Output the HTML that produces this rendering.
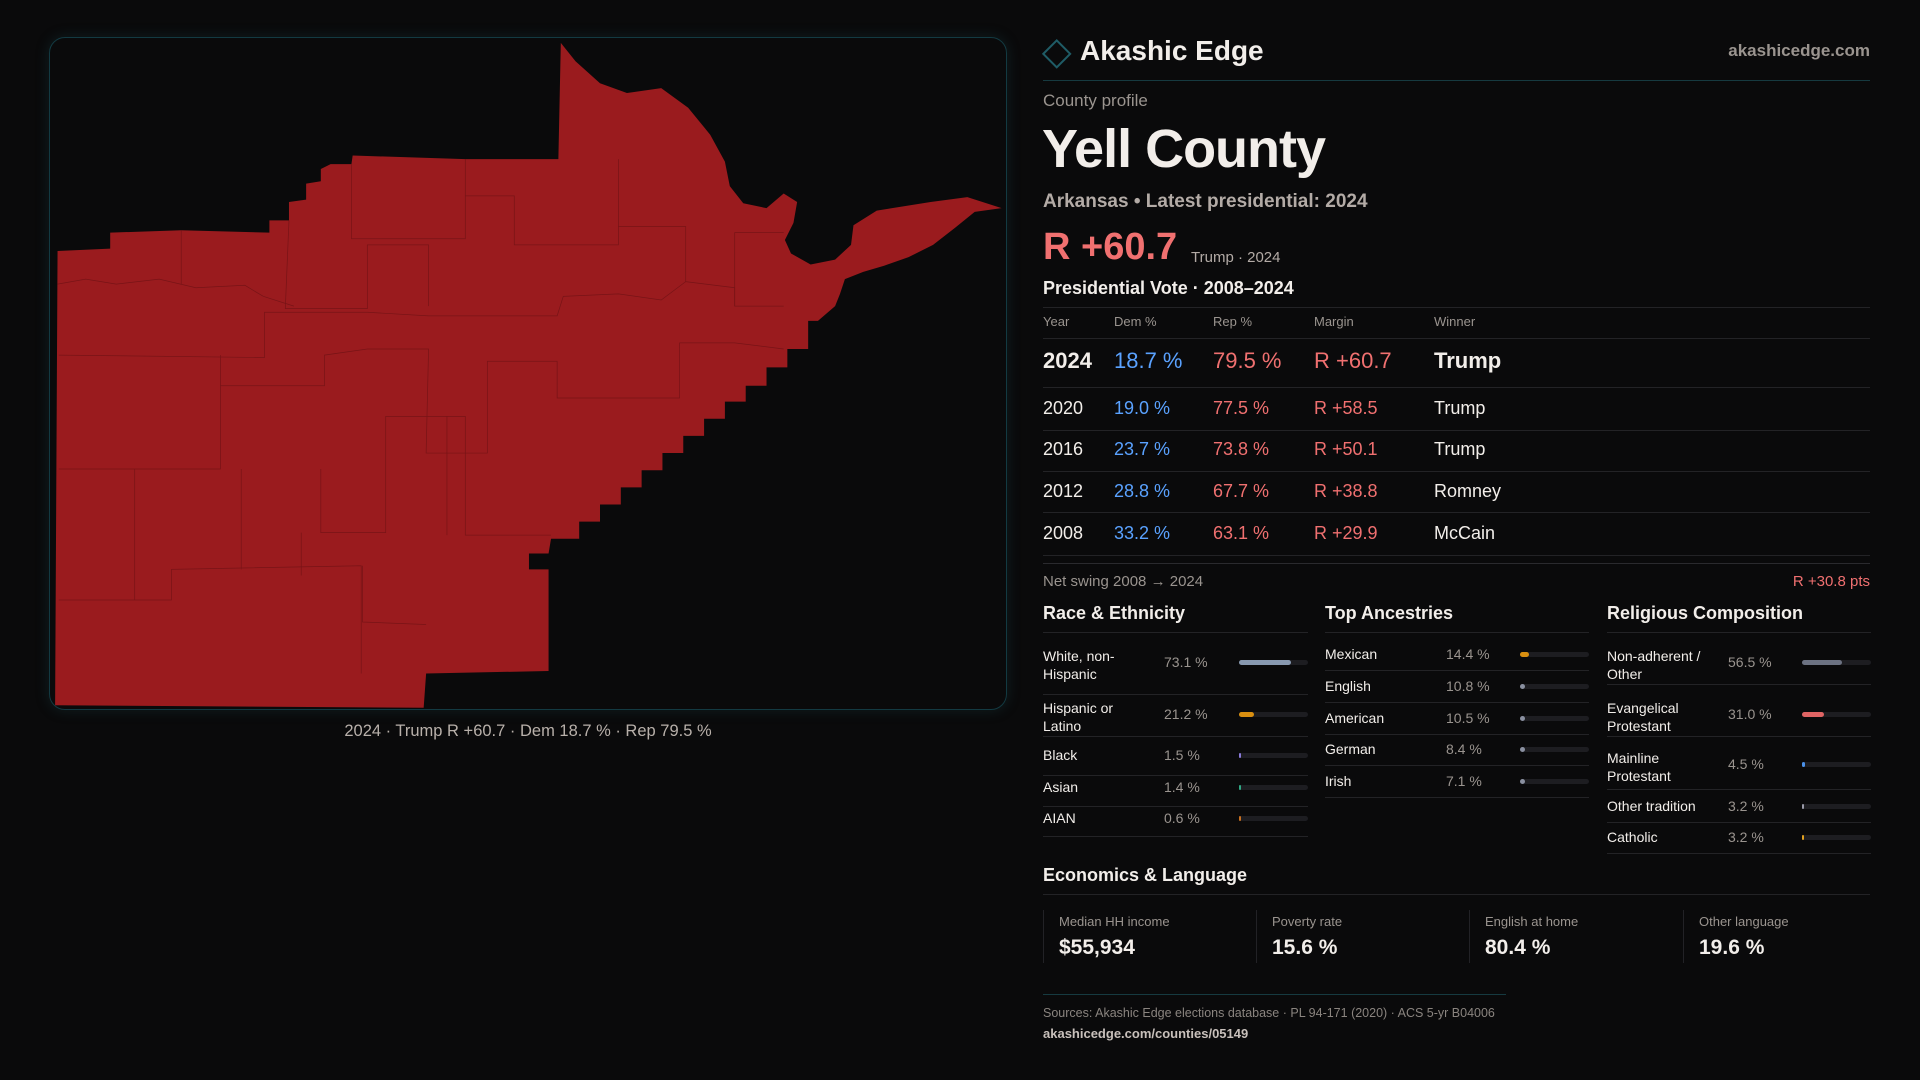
<!DOCTYPE html>
<html><head><meta charset="utf-8"><style>
*{margin:0;padding:0;box-sizing:border-box}
body{width:1920px;height:1080px;background:#0a0a0b;position:relative;overflow:hidden;font-family:"Liberation Sans",sans-serif;color:#f2eeea}
.a{position:absolute;white-space:nowrap;line-height:1}
.hl{position:absolute;height:1px;background:#232326}
.g{color:#9a948f}
.b{color:#5aa2ff}.r{color:#f07070}
.bar{position:absolute;height:5px;border-radius:3px;background:#1d1d21}
.bar i{position:absolute;left:0;top:0;height:5px;border-radius:3px;display:block}
.card{position:absolute;top:910px;height:53px;border-left:1px solid #222226}
</style></head><body>
<div style="position:absolute;left:49px;top:37px;width:958px;height:673px;border:1px solid #133a42;border-radius:16px;box-shadow:0 0 14px rgba(30,90,100,.25)"></div>
<svg style="position:absolute;left:0;top:0" width="1920" height="1080" viewBox="0 0 1568 882">
<path fill="#9a1b1e" d="M458,35 L470,50 L490,68 L512,76 L540,72 L562,88 L580,110 L592,132 L596,152 L607,166 L626,170 L640,158 L651,165 L648,182 L641,196 L646,207 L662,216 L682,212 L695,200 L697,184 L716,172 L760,165 L790,161 L818,170 L796,173 L780,186 L762,200 L742,210 L722,217 L705,222 L690,228 L686,240 L682,250 L668,262 L660,262 L660,285 L643,285 L643,300 L626,300 L626,315 L609,315 L609,328 L592,328 L592,342 L575,342 L575,356 L558,356 L558,370 L541,370 L541,384 L524,384 L524,398 L507,398 L507,412 L490,412 L490,426 L473,426 L473,440 L450,440 L448,452 L432,452 L432,465 L448,465 L448,548 L348,550 L346,578 L45,576 L47,205 L90,203 L90,190 L148,188 L220,190 L220,180 L236,180 L236,165 L250,163 L250,150 L262,148 L262,138 L270,134 L287,134 L288,127 L380,130 L456,130 Z"/>
<g stroke="#701215" stroke-width="0.6" fill="none" opacity="0.8">
<path d="M47,232 L70,228 L95,232 L130,228 L160,235 L200,233 L215,242 L240,250"/>
<path d="M148,188 L148,232 M236,180 L233,252 L300,252 L300,200 L350,200 L350,250 M287,134 L287,195 L380,195 L380,160 L420,160 L420,200 L505,200 L505,185 L560,185 L560,230 L600,235 L600,250"/>
<path d="M48,290 L216,292 L216,255 L300,255 L350,258 L455,258 L460,242 L505,240 L540,245 L560,230"/>
<path d="M380,130 L380,160 M505,130 L505,185 M640,190 L600,190 L600,250 L640,250"/>
<path d="M48,383 L180,383 L180,290 M180,315 L265,315 L265,290 L300,285 L350,285 L348,370 L398,370 L398,295 L455,295 L455,325 L555,325 L555,280 L600,280 L640,285"/>
<path d="M110,383 L110,490 L140,490 L140,465 L295,462 L295,550 M197,383 L197,465 M262,383 L262,435 L315,435 L315,340 L380,340 L380,437 L450,437 M365,340 L365,437 M48,490 L110,490"/>
<path d="M246,435 L246,470 M296,462 L296,508 L348,510"/>
</g>
<polygon points="852,44 863,33 874,44 863,55" fill="none" stroke="#1f5c66" stroke-width="1.6"/>
</svg>
<div class="a" style="left:0;width:1056px;text-align:center;top:723px;font-size:16.5px;color:#b8b0aa">2024 · Trump R +60.7 · Dem 18.7 % · Rep 79.5 %</div>

<div class="a" style="left:1080px;top:37px;font-size:28px;font-weight:bold">Akashic Edge</div>
<div class="a g" style="right:50px;top:42px;font-size:17px;font-weight:bold;color:#9a948f">akashicedge.com</div>
<div class="hl" style="left:1043px;width:827px;top:80px;background:#163a40"></div>
<div class="a g" style="left:1043px;top:92px;font-size:17px">County profile</div>
<div class="a" style="left:1042px;top:122px;font-size:54px;font-weight:bold;letter-spacing:-1px">Yell County</div>
<div class="a" style="left:1043px;top:192px;font-size:19px;font-weight:bold;color:#b3aba6">Arkansas • Latest presidential: 2024</div>
<div class="a r" style="left:1043px;top:228px;font-size:38px;font-weight:bold">R +60.7</div>
<div class="a" style="left:1191px;top:250px;font-size:15px;color:#b3aba6">Trump · 2024</div>
<div class="a" style="left:1043px;top:279px;font-size:18px;font-weight:bold">Presidential Vote · 2008–2024</div>
<div class="hl" style="left:1043px;width:827px;top:307px"></div>
<div class="a g" style="left:1043px;top:315px;font-size:13px">Year</div>
<div class="a g" style="left:1114px;top:315px;font-size:13px">Dem %</div>
<div class="a g" style="left:1213px;top:315px;font-size:13px">Rep %</div>
<div class="a g" style="left:1314px;top:315px;font-size:13px">Margin</div>
<div class="a g" style="left:1434px;top:315px;font-size:13px">Winner</div>
<div class="hl" style="left:1043px;width:827px;top:338px"></div>
<div class="a" style="left:1043px;top:350px;font-size:22px;font-weight:bold">2024</div>
<div class="a b" style="left:1114px;top:350px;font-size:22px">18.7 %</div>
<div class="a r" style="left:1213px;top:350px;font-size:22px">79.5 %</div>
<div class="a r" style="left:1314px;top:350px;font-size:22px">R +60.7</div>
<div class="a" style="left:1434px;top:350px;font-size:22px;font-weight:bold">Trump</div>
<div class="hl" style="left:1043px;width:827px;top:387px"></div>
<div class="a" style="left:1043px;top:399px;font-size:18px">2020</div><div class="a b" style="left:1114px;top:399px;font-size:18px">19.0 %</div><div class="a r" style="left:1213px;top:399px;font-size:18px">77.5 %</div><div class="a r" style="left:1314px;top:399px;font-size:18px">R +58.5</div><div class="a" style="left:1434px;top:399px;font-size:18px">Trump</div>
<div class="hl" style="left:1043px;width:827px;top:430px"></div>
<div class="a" style="left:1043px;top:440px;font-size:18px">2016</div><div class="a b" style="left:1114px;top:440px;font-size:18px">23.7 %</div><div class="a r" style="left:1213px;top:440px;font-size:18px">73.8 %</div><div class="a r" style="left:1314px;top:440px;font-size:18px">R +50.1</div><div class="a" style="left:1434px;top:440px;font-size:18px">Trump</div>
<div class="hl" style="left:1043px;width:827px;top:471px"></div>
<div class="a" style="left:1043px;top:482px;font-size:18px">2012</div><div class="a b" style="left:1114px;top:482px;font-size:18px">28.8 %</div><div class="a r" style="left:1213px;top:482px;font-size:18px">67.7 %</div><div class="a r" style="left:1314px;top:482px;font-size:18px">R +38.8</div><div class="a" style="left:1434px;top:482px;font-size:18px">Romney</div>
<div class="hl" style="left:1043px;width:827px;top:512px"></div>
<div class="a" style="left:1043px;top:524px;font-size:18px">2008</div><div class="a b" style="left:1114px;top:524px;font-size:18px">33.2 %</div><div class="a r" style="left:1213px;top:524px;font-size:18px">63.1 %</div><div class="a r" style="left:1314px;top:524px;font-size:18px">R +29.9</div><div class="a" style="left:1434px;top:524px;font-size:18px">McCain</div>
<div class="hl" style="left:1043px;width:827px;top:555px"></div>
<div class="hl" style="left:1043px;width:827px;top:563px;background:#2a2a2e"></div>
<div class="a g" style="left:1043px;top:574px;font-size:15px">Net swing 2008 → 2024</div>
<div class="a r" style="right:50px;top:574px;font-size:15px">R +30.8 pts</div>

<div class="a" style="left:1043px;top:604px;font-size:18px;font-weight:bold">Race &amp; Ethnicity</div>
<div class="a" style="left:1325px;top:604px;font-size:18px;font-weight:bold">Top Ancestries</div>
<div class="a" style="left:1607px;top:604px;font-size:18px;font-weight:bold">Religious Composition</div>
<div class="hl" style="left:1043px;width:265px;top:632px"></div>
<div class="hl" style="left:1325px;width:264px;top:632px"></div>
<div class="hl" style="left:1607px;width:264px;top:632px"></div>

<div class="a" style="left:1043px;top:647px;font-size:14px;line-height:18px;white-space:normal;width:110px">White, non-Hispanic</div><div class="a g" style="left:1164px;top:655px;font-size:14px">73.1 %</div><div class="bar" style="left:1239px;top:660px;width:69px"><i style="width:52px;background:#8899b0"></i></div>
<div class="hl" style="left:1043px;width:265px;top:694px"></div>
<div class="a" style="left:1043px;top:699px;font-size:14px;line-height:18px;white-space:normal;width:100px">Hispanic or Latino</div><div class="a g" style="left:1164px;top:707px;font-size:14px">21.2 %</div><div class="bar" style="left:1239px;top:712px;width:69px"><i style="width:15px;background:#d98f10"></i></div>
<div class="hl" style="left:1043px;width:265px;top:736px"></div>
<div class="a" style="left:1043px;top:748px;font-size:14px">Black</div><div class="a g" style="left:1164px;top:748px;font-size:14px">1.5 %</div><div class="bar" style="left:1239px;top:753px;width:69px"><i style="width:2px;background:#8a7ad8"></i></div>
<div class="hl" style="left:1043px;width:265px;top:775px"></div>
<div class="a" style="left:1043px;top:780px;font-size:14px">Asian</div><div class="a g" style="left:1164px;top:780px;font-size:14px">1.4 %</div><div class="bar" style="left:1239px;top:785px;width:69px"><i style="width:2px;background:#30a884"></i></div>
<div class="hl" style="left:1043px;width:265px;top:806px"></div>
<div class="a" style="left:1043px;top:811px;font-size:14px">AIAN</div><div class="a g" style="left:1164px;top:811px;font-size:14px">0.6 %</div><div class="bar" style="left:1239px;top:816px;width:69px"><i style="width:2px;background:#c87020"></i></div>
<div class="hl" style="left:1043px;width:265px;top:836px"></div>

<div class="a" style="left:1325px;top:647px;font-size:14px">Mexican</div><div class="a g" style="left:1446px;top:647px;font-size:14px">14.4 %</div><div class="bar" style="left:1520px;top:652px;width:69px"><i style="width:9px;background:#d98f10"></i></div>
<div class="hl" style="left:1325px;width:264px;top:670px"></div>
<div class="a" style="left:1325px;top:679px;font-size:14px">English</div><div class="a g" style="left:1446px;top:679px;font-size:14px">10.8 %</div><div class="bar" style="left:1520px;top:684px;width:69px"><i style="width:5px;background:#8a90a0"></i></div>
<div class="hl" style="left:1325px;width:264px;top:702px"></div>
<div class="a" style="left:1325px;top:711px;font-size:14px">American</div><div class="a g" style="left:1446px;top:711px;font-size:14px">10.5 %</div><div class="bar" style="left:1520px;top:716px;width:69px"><i style="width:5px;background:#8a90a0"></i></div>
<div class="hl" style="left:1325px;width:264px;top:734px"></div>
<div class="a" style="left:1325px;top:742px;font-size:14px">German</div><div class="a g" style="left:1446px;top:742px;font-size:14px">8.4 %</div><div class="bar" style="left:1520px;top:747px;width:69px"><i style="width:5px;background:#8a90a0"></i></div>
<div class="hl" style="left:1325px;width:264px;top:765px"></div>
<div class="a" style="left:1325px;top:774px;font-size:14px">Irish</div><div class="a g" style="left:1446px;top:774px;font-size:14px">7.1 %</div><div class="bar" style="left:1520px;top:779px;width:69px"><i style="width:5px;background:#8a90a0"></i></div>
<div class="hl" style="left:1325px;width:264px;top:797px"></div>

<div class="a" style="left:1607px;top:647px;font-size:14px;line-height:18px;white-space:normal;width:115px">Non-adherent / Other</div><div class="a g" style="left:1728px;top:655px;font-size:14px">56.5 %</div><div class="bar" style="left:1802px;top:660px;width:69px"><i style="width:40px;background:#6c7282"></i></div>
<div class="hl" style="left:1607px;width:264px;top:684px"></div>
<div class="a" style="left:1607px;top:699px;font-size:14px;line-height:18px;white-space:normal;width:100px">Evangelical Protestant</div><div class="a g" style="left:1728px;top:707px;font-size:14px">31.0 %</div><div class="bar" style="left:1802px;top:712px;width:69px"><i style="width:22px;background:#e06464"></i></div>
<div class="hl" style="left:1607px;width:264px;top:736px"></div>
<div class="a" style="left:1607px;top:749px;font-size:14px;line-height:18px;white-space:normal;width:100px">Mainline Protestant</div><div class="a g" style="left:1728px;top:757px;font-size:14px">4.5 %</div><div class="bar" style="left:1802px;top:762px;width:69px"><i style="width:3px;background:#4a90e8"></i></div>
<div class="hl" style="left:1607px;width:264px;top:789px"></div>
<div class="a" style="left:1607px;top:799px;font-size:14px">Other tradition</div><div class="a g" style="left:1728px;top:799px;font-size:14px">3.2 %</div><div class="bar" style="left:1802px;top:804px;width:69px"><i style="width:2px;background:#9a9aa8"></i></div>
<div class="hl" style="left:1607px;width:264px;top:822px"></div>
<div class="a" style="left:1607px;top:830px;font-size:14px">Catholic</div><div class="a g" style="left:1728px;top:830px;font-size:14px">3.2 %</div><div class="bar" style="left:1802px;top:835px;width:69px"><i style="width:2px;background:#e0a020"></i></div>
<div class="hl" style="left:1607px;width:264px;top:853px"></div>

<div class="a" style="left:1043px;top:866px;font-size:18px;font-weight:bold">Economics &amp; Language</div>
<div class="hl" style="left:1043px;width:827px;top:894px"></div>
<div class="card" style="left:1043px;width:200px"><div class="a g" style="left:15px;top:5px;font-size:13px">Median HH income</div><div class="a" style="left:15px;top:27px;font-size:21px;font-weight:bold">$55,934</div></div>
<div class="card" style="left:1256px;width:200px"><div class="a g" style="left:15px;top:5px;font-size:13px">Poverty rate</div><div class="a" style="left:15px;top:27px;font-size:21px;font-weight:bold">15.6 %</div></div>
<div class="card" style="left:1469px;width:200px"><div class="a g" style="left:15px;top:5px;font-size:13px">English at home</div><div class="a" style="left:15px;top:27px;font-size:21px;font-weight:bold">80.4 %</div></div>
<div class="card" style="left:1683px;width:190px"><div class="a g" style="left:15px;top:5px;font-size:13px">Other language</div><div class="a" style="left:15px;top:27px;font-size:21px;font-weight:bold">19.6 %</div></div>

<div class="hl" style="left:1043px;width:463px;top:994px;background:#163a40"></div>
<div class="a g" style="left:1043px;top:1007px;font-size:12.5px;color:#8a847f">Sources: Akashic Edge elections database · PL 94-171 (2020) · ACS 5-yr B04006</div>
<div class="a" style="left:1043px;top:1027px;font-size:13px;font-weight:bold;color:#c8c0bb">akashicedge.com/counties/05149</div>
</body></html>
